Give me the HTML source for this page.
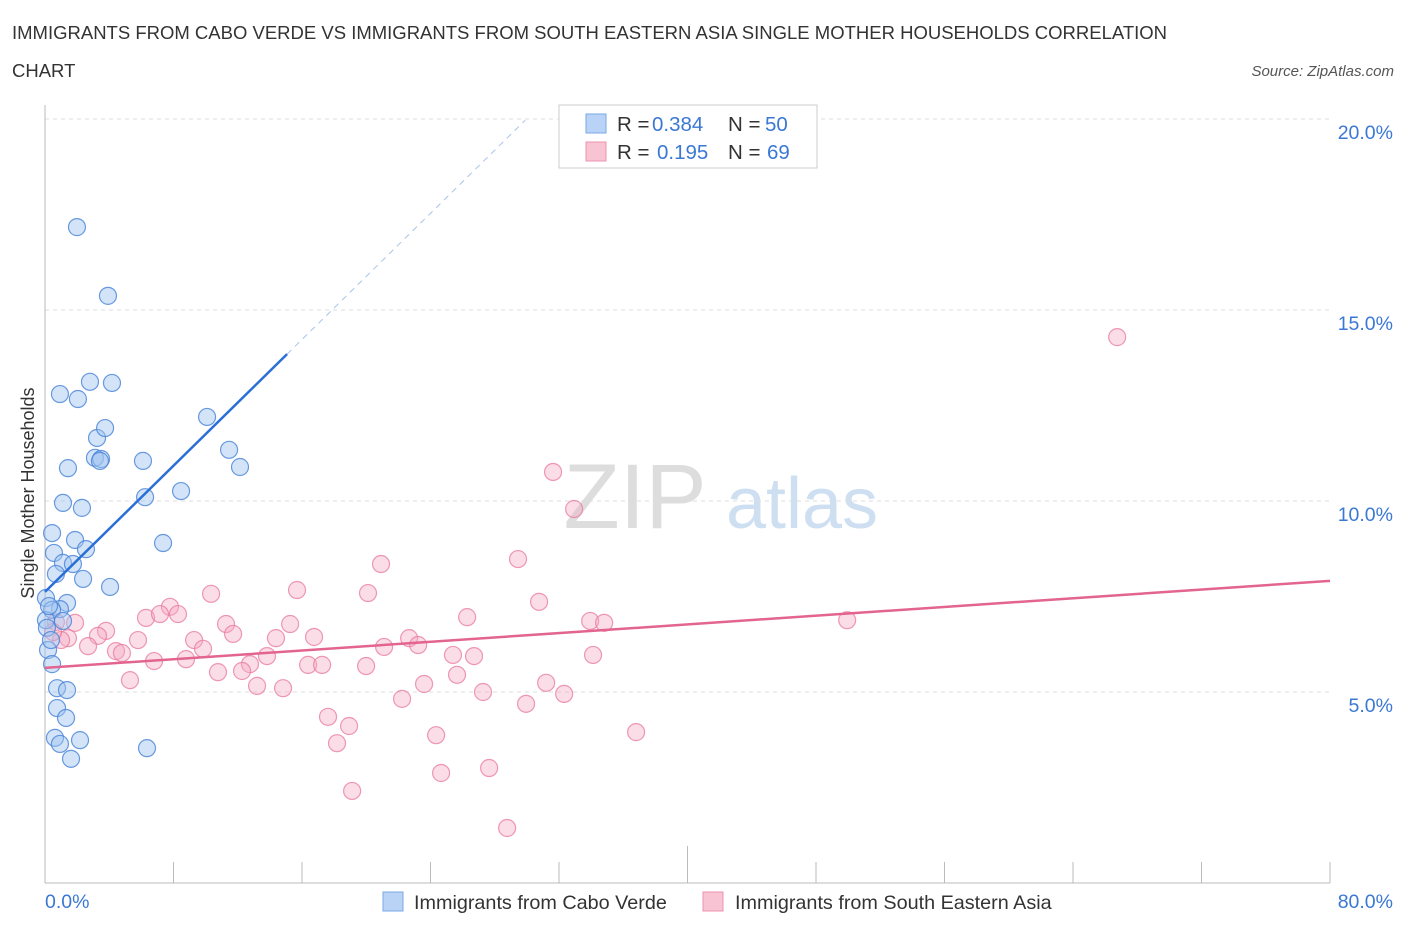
<!DOCTYPE html>
<html><head><meta charset="utf-8"><style>
body{margin:0;background:#fff;font-family:"Liberation Sans",sans-serif}
svg text{font-family:"Liberation Sans",sans-serif}
</style></head><body>
<svg width="1406" height="930" viewBox="0 0 1406 930">
<text x="12" y="39" font-size="18.5" fill="#333">IMMIGRANTS FROM CABO VERDE VS IMMIGRANTS FROM SOUTH EASTERN ASIA SINGLE MOTHER HOUSEHOLDS CORRELATION</text>
<text x="12" y="77" font-size="18.5" fill="#333">CHART</text>
<text x="1394" y="76" font-size="15" fill="#555" font-style="italic" text-anchor="end">Source: ZipAtlas.com</text>
<g>
<text x="635" y="528" font-size="92" fill="#ddd" font-family="Liberation Serif" text-anchor="middle">ZIP</text>
<text x="802" y="528" font-size="72" fill="#cfdff2" text-anchor="middle">atlas</text>
</g>
<g id="grid"></g>
<g id="axes"></g>
<g id="marks"></g>
<text transform="translate(34,493) rotate(-90)" font-size="18" fill="#333" text-anchor="middle">Single Mother Households</text>
<g>
<rect x="559" y="105" width="258" height="63" fill="#fff" stroke="#ccc"/>
<rect x="586" y="114" width="20" height="19" fill="#b8d3f5" stroke="#7aaae6"/>
<rect x="586" y="142" width="20" height="19" fill="#f8c3d3" stroke="#eb93ad"/>
<text y="131" font-size="20.5" fill="#333"><tspan x="617">R =</tspan><tspan x="652" fill="#3a78d4">0.384</tspan><tspan x="728">N =</tspan><tspan x="765" fill="#3a78d4">50</tspan></text>
<text y="159" font-size="20.5" fill="#333"><tspan x="617">R =</tspan><tspan x="657" fill="#3a78d4">0.195</tspan><tspan x="728">N =</tspan><tspan x="767" fill="#3a78d4">69</tspan></text>
</g>
<g>
<rect x="383" y="892" width="20" height="19" fill="#b8d3f5" stroke="#7aaae6"/>
<text x="414" y="909" font-size="19.8" fill="#333">Immigrants from Cabo Verde</text>
<rect x="703" y="892" width="20" height="19" fill="#f8c3d3" stroke="#eb93ad"/>
<text x="735" y="909" font-size="19.8" fill="#333">Immigrants from South Eastern Asia</text>
</g>
</svg>
<script>
const blueX=[1.99,3.92,0.93,2.05,2.80,4.17,3.24,3.74,3.11,3.49,3.42,1.43,6.10,10.09,11.46,12.14,8.47,6.23,1.12,2.30,7.35,0.44,1.87,2.55,0.56,1.12,1.74,0.68,2.37,4.05,0.06,1.37,0.93,0.44,0.06,1.12,0.12,0.19,0.44,0.75,1.37,0.75,1.31,0.62,2.18,0.93,1.62,6.35,0.25,0.37];
const blueY=[17.17,15.37,12.80,12.67,13.12,13.09,11.65,11.91,11.13,11.10,11.05,10.86,11.05,12.20,11.34,10.89,10.26,10.10,9.95,9.82,8.90,9.16,8.98,8.74,8.64,8.38,8.35,8.09,7.96,7.75,7.46,7.33,7.17,7.15,6.88,6.86,6.68,6.10,5.73,5.10,5.05,4.58,4.32,3.80,3.74,3.64,3.25,3.53,7.25,6.36];
const pinkX=[66.75,31.63,32.94,29.45,20.92,15.69,20.11,10.34,30.76,26.28,33.94,34.81,49.94,7.78,6.29,7.16,8.28,15.26,11.27,11.71,3.80,3.30,14.38,16.75,22.67,21.11,23.23,9.28,5.79,1.43,1.00,0.68,1.87,2.68,4.42,4.79,6.79,8.78,9.84,13.82,16.38,17.25,19.99,25.40,26.71,34.12,12.76,10.77,12.27,25.65,5.29,13.20,14.82,23.60,31.20,27.27,32.32,22.23,29.95,17.62,18.93,18.18,24.35,36.80,27.65,24.66,19.12,28.77,0.50];
const pinkY=[14.29,10.76,9.79,8.48,8.35,7.67,7.59,7.57,7.36,6.96,6.86,6.81,6.88,7.23,6.94,7.04,7.04,6.78,6.78,6.52,6.60,6.47,6.41,6.44,6.41,6.18,6.23,6.36,6.36,6.41,6.36,6.83,6.81,6.20,6.07,6.02,5.81,5.86,6.13,5.94,5.71,5.71,5.68,5.97,5.94,5.97,5.73,5.52,5.55,5.45,5.31,5.16,5.10,5.21,5.24,5.00,4.95,4.82,4.69,4.35,4.11,3.66,3.87,3.95,3.01,2.88,2.41,1.44,6.57];
const yTicks=[5,10,15,20];
const yTickLabels=["5.0%","10.0%","15.0%","20.0%"];
const xTicks=[0,8,16,24,32,40,48,56,64,72,80];
const blueTrend=[7.62,0.413];
const pinkTrend=[5.63,0.0285];
(function(){
const NS='http://www.w3.org/2000/svg';
const X=v=>45+v*16.0625, Y=v=>883-v*38.2;
function mk(t,a,p){const e=document.createElementNS(NS,t);for(const k in a)e.setAttribute(k,a[k]);p.appendChild(e);return e;}
const grid=document.getElementById('grid'),axes=document.getElementById('axes'),marks=document.getElementById('marks');
yTicks.forEach((v,i)=>{
 const l=mk('line',{x1:45,x2:1330,y1:Y(v),y2:Y(v),stroke:'#ddd','stroke-dasharray':'4,4'},grid);
 
 
 const t=mk('text',{x:1393,y:Y(v)+20,'font-size':19.5,fill:'#3a78d4','text-anchor':'end'},axes);
 t.textContent=yTickLabels[i];
 
 
});
const ya=mk('line',{x1:45,x2:45,y1:105,y2:883,stroke:'#bbb'},axes);


const xa=mk('line',{x1:45,x2:1330,y1:883,y2:883,stroke:'#bbb'},axes);


xTicks.forEach(v=>{
 const l=mk('line',{x1:X(v),x2:X(v),y1:(v==40?846:862),y2:883,stroke:'#bbb'},axes);
 
 
});
[['0.0%',45,'start'],['80.0%',1393,'end']].forEach(d=>{
 const t=mk('text',{x:d[1],y:908,'font-size':19.5,fill:'#3a78d4','text-anchor':d[2]},axes);
 t.textContent=d[0];
 
 
});
function pts(xs,ys,fill,stroke,name){
 xs.forEach((x,i)=>{
  const c=mk('circle',{cx:X(x),cy:Y(ys[i]),r:8.5,fill:fill,stroke:stroke,'stroke-width':1.2},marks);
  
  
 });
}
pts(pinkX,pinkY,'rgba(245,170,195,0.4)','rgba(232,120,155,0.75)','point-se-asia');
pts(blueX,blueY,'rgba(160,196,240,0.45)','rgba(70,130,215,0.8)','point-cabo-verde');
const bx2=15.07,bx3=29.9;
const bd=mk('line',{x1:X(bx2),y1:Y(blueTrend[0]+blueTrend[1]*bx2),x2:X(bx3),y2:Y(blueTrend[0]+blueTrend[1]*bx3),stroke:'#a9c4e8','stroke-dasharray':'6,5','stroke-width':1},marks);


const bl=mk('line',{x1:X(0),y1:Y(blueTrend[0]),x2:X(bx2),y2:Y(blueTrend[0]+blueTrend[1]*bx2),stroke:'#2a6fd6','stroke-width':2.5},marks);


const pl=mk('line',{x1:X(0),y1:Y(pinkTrend[0]),x2:X(80),y2:Y(pinkTrend[0]+pinkTrend[1]*80),stroke:'#e2648f','stroke-width':2.5},marks);


})();
</script>
</body></html>
